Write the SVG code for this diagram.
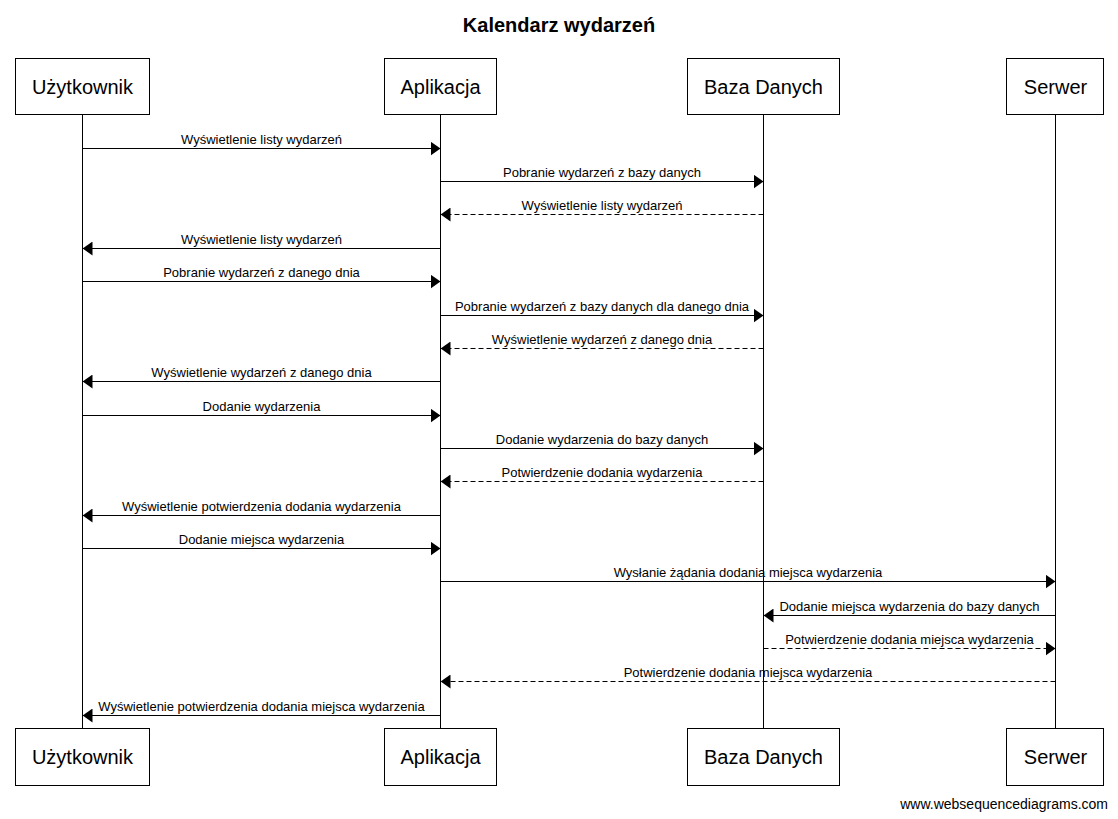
<svg xmlns="http://www.w3.org/2000/svg" width="1118" height="819" viewBox="0 0 1118 819">
<style>
text{font-family:"Liberation Sans",Arial,sans-serif;fill:#000}
.title{font-size:20px;font-weight:bold;text-anchor:middle}
.pbox{fill:#fff;stroke:#000;stroke-width:1}
.pname{font-size:20px;text-anchor:middle}
.life{stroke:#000;stroke-width:1}
.msg{stroke:#000;stroke-width:1;fill:none;marker-end:url(#ah)}
.dash{stroke-dasharray:5,3}
.lbl{font-size:13px;text-anchor:middle}
.wm{font-size:14px;text-anchor:end}
</style>
<defs>
<marker id="ah" markerWidth="10" markerHeight="14" refX="10" refY="7" orient="auto" markerUnits="userSpaceOnUse">
<path d="M0,0 L10,7 L0,14 z" fill="#000"/>
</marker>
</defs>
<rect width="1118" height="819" fill="#fff"/>
<text class="title" x="559" y="32">Kalendarz wydarzeń</text>
<g id="lifelines">
<line class="life" x1="82.5" y1="115" x2="82.5" y2="728"/>
<line class="life" x1="440.5" y1="115" x2="440.5" y2="728"/>
<line class="life" x1="763.5" y1="115" x2="763.5" y2="728"/>
<line class="life" x1="1055.5" y1="115" x2="1055.5" y2="728"/>
</g>
<g id="uzytkownik">
<rect class="pbox" x="15.5" y="58.5" width="134" height="56"/>
<text class="pname" x="82.5" y="94">Użytkownik</text>
<rect class="pbox" x="15.5" y="728.5" width="134" height="57"/>
<text class="pname" x="82.5" y="764">Użytkownik</text>
</g>
<g id="aplikacja">
<rect class="pbox" x="384.5" y="58.5" width="112" height="56"/>
<text class="pname" x="440.5" y="94">Aplikacja</text>
<rect class="pbox" x="384.5" y="728.5" width="112" height="57"/>
<text class="pname" x="440.5" y="764">Aplikacja</text>
</g>
<g id="baza">
<rect class="pbox" x="687.5" y="58.5" width="152" height="56"/>
<text class="pname" x="763.5" y="94">Baza Danych</text>
<rect class="pbox" x="687.5" y="728.5" width="152" height="57"/>
<text class="pname" x="763.5" y="764">Baza Danych</text>
</g>
<g id="serwer">
<rect class="pbox" x="1006.5" y="58.5" width="97" height="56"/>
<text class="pname" x="1055.5" y="94">Serwer</text>
<rect class="pbox" x="1006.5" y="728.5" width="97" height="57"/>
<text class="pname" x="1055.5" y="764">Serwer</text>
</g>
<g id="connectors">
<line class="msg" x1="82.5" y1="148.5" x2="440.5" y2="148.5"/>
<text class="lbl" x="261.5" y="144">Wyświetlenie listy wydarzeń</text>
<line class="msg" x1="440.5" y1="181.5" x2="763.5" y2="181.5"/>
<text class="lbl" x="602" y="177">Pobranie wydarzeń z bazy danych</text>
<line class="msg dash" x1="763.5" y1="214.5" x2="440.5" y2="214.5"/>
<text class="lbl" x="602" y="210">Wyświetlenie listy wydarzeń</text>
<line class="msg" x1="440.5" y1="248.5" x2="82.5" y2="248.5"/>
<text class="lbl" x="261.5" y="244">Wyświetlenie listy wydarzeń</text>
<line class="msg" x1="82.5" y1="281.5" x2="440.5" y2="281.5"/>
<text class="lbl" x="261.5" y="277">Pobranie wydarzeń z danego dnia</text>
<line class="msg" x1="440.5" y1="315.5" x2="763.5" y2="315.5"/>
<text class="lbl" x="602" y="311">Pobranie wydarzeń z bazy danych dla danego dnia</text>
<line class="msg dash" x1="763.5" y1="348.5" x2="440.5" y2="348.5"/>
<text class="lbl" x="602" y="344">Wyświetlenie wydarzeń z danego dnia</text>
<line class="msg" x1="440.5" y1="381.5" x2="82.5" y2="381.5"/>
<text class="lbl" x="261.5" y="377">Wyświetlenie wydarzeń z danego dnia</text>
<line class="msg" x1="82.5" y1="415.5" x2="440.5" y2="415.5"/>
<text class="lbl" x="261.5" y="411">Dodanie wydarzenia</text>
<line class="msg" x1="440.5" y1="448.5" x2="763.5" y2="448.5"/>
<text class="lbl" x="602" y="444">Dodanie wydarzenia do bazy danych</text>
<line class="msg dash" x1="763.5" y1="481.5" x2="440.5" y2="481.5"/>
<text class="lbl" x="602" y="477">Potwierdzenie dodania wydarzenia</text>
<line class="msg" x1="440.5" y1="515.5" x2="82.5" y2="515.5"/>
<text class="lbl" x="261.5" y="511">Wyświetlenie potwierdzenia dodania wydarzenia</text>
<line class="msg" x1="82.5" y1="548.5" x2="440.5" y2="548.5"/>
<text class="lbl" x="261.5" y="544">Dodanie miejsca wydarzenia</text>
<line class="msg" x1="440.5" y1="581.5" x2="1055.5" y2="581.5"/>
<text class="lbl" x="748" y="577">Wysłanie żądania dodania miejsca wydarzenia</text>
<line class="msg" x1="1055.5" y1="615.5" x2="763.5" y2="615.5"/>
<text class="lbl" x="909.5" y="611">Dodanie miejsca wydarzenia do bazy danych</text>
<line class="msg dash" x1="763.5" y1="648.5" x2="1055.5" y2="648.5"/>
<text class="lbl" x="909.5" y="644">Potwierdzenie dodania miejsca wydarzenia</text>
<line class="msg dash" x1="1055.5" y1="681.5" x2="440.5" y2="681.5"/>
<text class="lbl" x="748" y="677">Potwierdzenie dodania miejsca wydarzenia</text>
<line class="msg" x1="440.5" y1="715.5" x2="82.5" y2="715.5"/>
<text class="lbl" x="261.5" y="711">Wyświetlenie potwierdzenia dodania miejsca wydarzenia</text>
</g>
<text class="wm" x="1108" y="809">www.websequencediagrams.com</text>
</svg>
